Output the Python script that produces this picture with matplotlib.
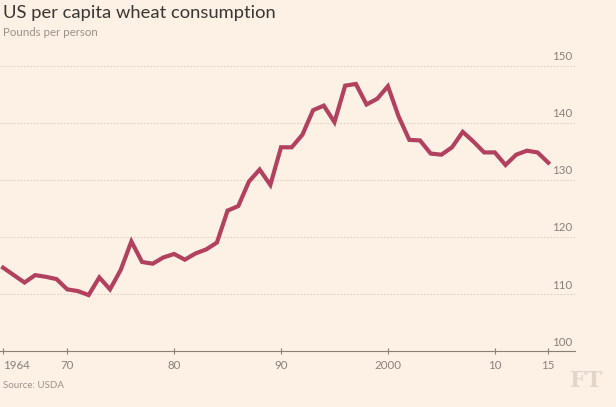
import numpy as np
import matplotlib.pyplot as plt
import matplotlib.transforms as mtransforms

years = list(range(1964, 2016))
pounds = [114.6, 113.3, 112.0, 113.3, 113.0, 112.6, 110.8, 110.5, 109.8, 112.9,
          110.8, 114.2, 119.2, 115.6, 115.3, 116.4, 117.0, 116.0, 117.1, 117.8,
          119.0, 124.6, 125.4, 129.7, 131.8, 129.1, 135.7, 135.7, 137.9, 142.2,
          143.0, 140.1, 146.5, 146.8, 143.2, 144.2, 146.4, 141.1, 137.0, 136.9,
          134.6, 134.4, 135.7, 138.4, 136.7, 134.8, 134.8, 132.6, 134.4, 135.1,
          134.8, 133.0]
x_ticks = [1964, 1970, 1980, 1990, 2000, 2010, 2015]
x_labels = ['1964', '70', '80', '90', '2000', '10', '15']
y_ticks = [100, 110, 120, 130, 140, 150]

bg = '#fdf1e5'
line_col = '#b2405f'
grey = '#8a8079'
grid_col = '#dcd1c6'

plt.rcParams['font.family'] = ['Lato', 'DejaVu Sans']

fig = plt.figure(figsize=(6.16, 4.07), dpi=100, facecolor=bg)
ax = fig.add_axes([0.0, 0.1376, 0.9334, 0.7641])
ax.set_facecolor(bg)

ax.plot(years, pounds, color=line_col, linewidth=3, solid_joinstyle='miter', zorder=3)

ax.set_xlim(1963.71, 2017.5)
ax.set_ylim(100, 154.5)

for s in ['top', 'right', 'left']:
    ax.spines[s].set_visible(False)
ax.spines['bottom'].set_color(grey)
ax.spines['bottom'].set_linewidth(0.8)

ax.set_yticks([])
for v in y_ticks[1:]:
    ax.axhline(v, color=grid_col, linewidth=0.8, linestyle=(0, (1.5, 1.5)), zorder=1)

trans = mtransforms.blended_transform_factory(ax.transAxes, ax.transData)
for v in y_ticks:
    ax.text(0.995, v + 0.6, str(v), transform=trans, ha='right', va='bottom',
            fontsize=8.3, color=grey)

ax.set_xticks(x_ticks)
ax.set_xticklabels(x_labels)
ax.tick_params(axis='x', direction='inout', length=4.5, width=0.8, color=grey,
               labelsize=8.3, labelcolor=grey, pad=4)
ax.get_xticklabels()[0].set_horizontalalignment('left')

fig.text(0.005, 0.955, 'US per capita wheat consumption', fontsize=13.2,
         color='#3a3633', ha='left', va='baseline')
fig.text(0.005, 0.912, 'Pounds per person', fontsize=8.3, color='#9a918a',
         ha='left', va='baseline')
fig.text(0.005, 0.046, 'Source: USDA', fontsize=7, color='#9a918a',
         ha='left', va='baseline')
fig.text(0.952, 0.049, 'FT', fontsize=16, color='#e0d6cc', family='DejaVu Serif',
         fontweight='bold', ha='center', va='baseline')

plt.savefig('out.png', dpi=100, facecolor=bg)
